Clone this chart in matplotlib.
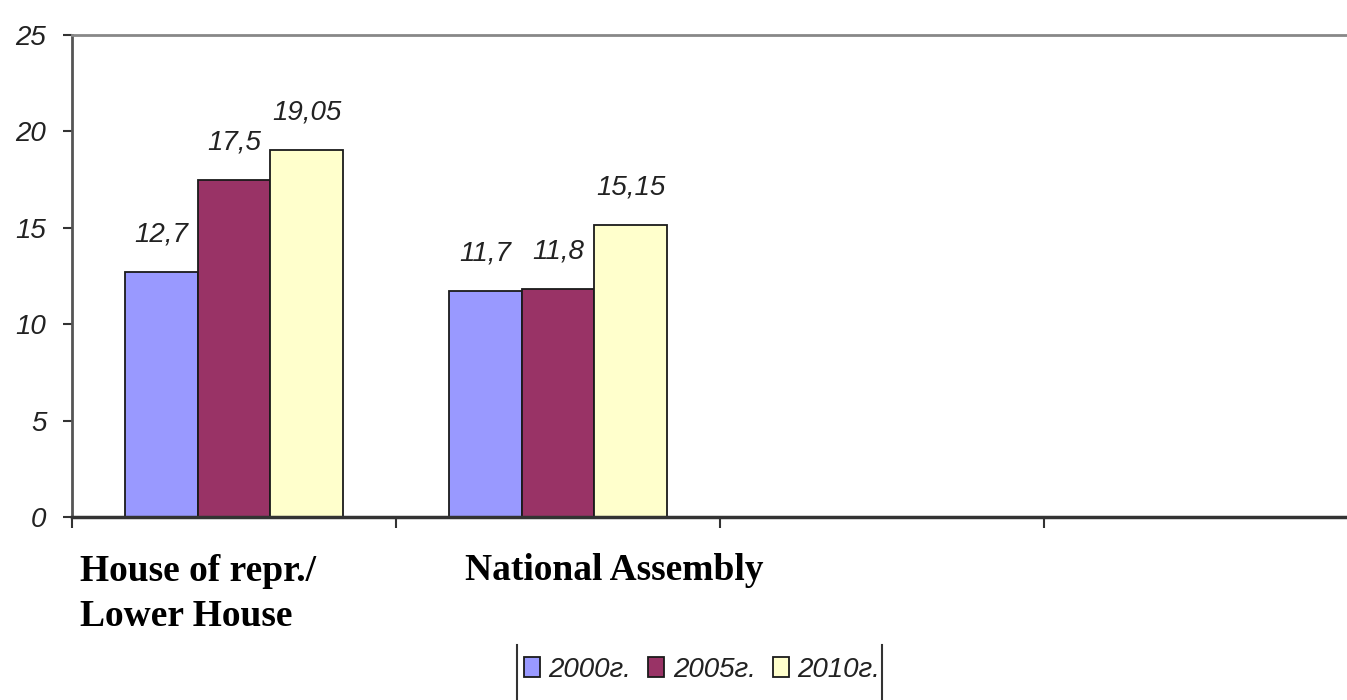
import matplotlib.pyplot as plt
from matplotlib.lines import Line2D
import numpy as np

# Data
categories = ["House of repr./\nLower House", "National Assembly", "", ""]
years = ["2000г.", "2005г.", "2010г."]
values_2000 = [12.7, 11.7]
values_2005 = [17.5, 11.8]
values_2010 = [19.05, 15.15]
colors = ["#9999FF", "#993366", "#FFFFCC"]

sans = ["Liberation Sans", "DejaVu Sans"]

fig = plt.figure(figsize=(13.47, 7), dpi=100)
ax = fig.add_axes([72 / 1347, 1 - 517 / 700, 1296 / 1347, (517 - 35) / 700])

series = [values_2000, values_2005, values_2010]
w = 0.225
x = np.arange(len(series[0])) + 0.5
for i, (vals, c, lab) in enumerate(zip(series, colors, years)):
    pos = x + (i - 1) * w
    bars = ax.bar(pos, vals, width=w, color=c, edgecolor="#1a1a1a", linewidth=1.3, label=lab)
    for b, v in zip(bars, vals):
        txt = f"{v:g}".replace(".", ",")
        ax.annotate(txt, (b.get_x() + b.get_width() / 2, v), xytext=(0, 27),
                    textcoords="offset points", ha="center", va="center",
                    fontsize=20, style="italic", family=sans, color="#222222")

ax.set_xlim(0, len(categories))
ax.set_ylim(0, 25)
ax.set_yticks([0, 5, 10, 15, 20, 25])
ax.set_xticks(np.arange(len(categories) + 1))
ax.set_xticklabels([])
for lbl in ax.get_yticklabels():
    lbl.set_fontstyle("italic")
    lbl.set_family(sans)
ax.tick_params(axis="y", labelsize=20, length=6.5, width=1.5, color="#333333", pad=12, labelcolor="#222222")
ax.tick_params(axis="x", length=8, width=1.5, color="#333333")

ax.spines["left"].set_color("#555555")
ax.spines["left"].set_linewidth(2)
ax.spines["bottom"].set_color("#333333")
ax.spines["bottom"].set_linewidth(2.5)
ax.spines["top"].set_color("#888888")
ax.spines["top"].set_linewidth(2)
ax.spines["right"].set_visible(False)

# category labels below the axis (first baseline ~63 px under the axis, 46 px per line)
px = 25 / 482
label_x = [0.025, 1.213]
for lx, name in zip(label_x, categories):
    n_lines = name.count("\n") + 1
    y_base = -(63 + 46 * (n_lines - 1)) * px
    ax.text(lx, y_base, name, ha="left", va="baseline", fontsize=27, fontweight="bold",
            family="Liberation Serif", linespacing=1.38)

leg = fig.legend(loc="center", bbox_to_anchor=(702 / 1347, 1 - 670 / 700), ncol=3,
                 frameon=False, prop={"family": sans, "style": "italic", "size": 20},
                 handlelength=0.58, handleheight=0.75, handletextpad=0.32, columnspacing=0.6,
                 labelcolor="#222222")
fig.add_artist(Line2D([517 / 1347, 517 / 1347], [0, 1 - 645 / 700], color="#333333", lw=1.5))
fig.add_artist(Line2D([882 / 1347, 882 / 1347], [0, 1 - 645 / 700], color="#333333", lw=1.5))

fig.savefig("out.png", dpi=100)
